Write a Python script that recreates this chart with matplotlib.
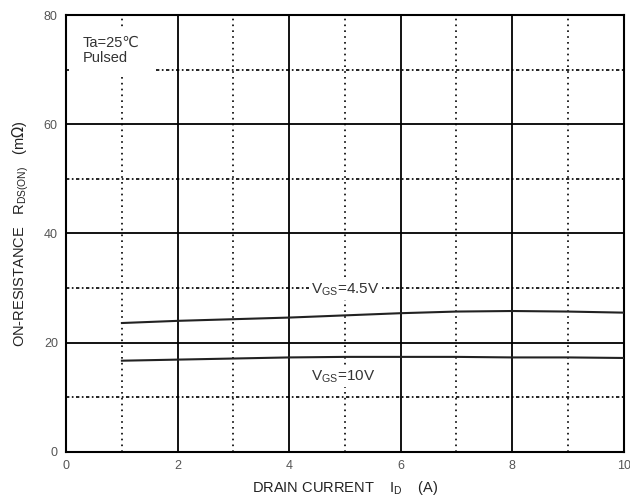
import matplotlib
matplotlib.use('Agg')
import matplotlib.pyplot as plt
import numpy as np

plt.rcParams['font.family'] = ['Liberation Sans', 'DejaVu Sans']

# drain current (A) and on-resistance (mOhm)
id_a = [1, 2, 3, 4, 5, 6, 7, 8, 9, 10]
r_vgs45 = [23.6, 24.0, 24.3, 24.6, 25.0, 25.4, 25.7, 25.8, 25.7, 25.5]
r_vgs10 = [16.7, 16.9, 17.1, 17.3, 17.4, 17.4, 17.4, 17.3, 17.3, 17.2]

xticks = [0, 2, 4, 6, 8, 10]
yticks = [0, 20, 40, 60, 80]
xminor = [1, 3, 5, 7, 9]
yminor = [10, 30, 50, 70]

fig = plt.figure(figsize=(6.3, 5.01), dpi=100)
ax = fig.add_axes([0.105, 0.098, 0.885, 0.872])

for x in xticks[1:-1]:
    ax.axvline(x, color='black', lw=1.3, zorder=1)
for y in yticks[1:-1]:
    ax.axhline(y, color='black', lw=1.3, zorder=1)
for x in xminor:
    ax.axvline(x, color='black', lw=1.2, ls=(0, (1, 2.5)), zorder=1)
for y in yminor:
    ax.axhline(y, color='black', lw=1.2, ls=(0, (2, 1.5, 1, 1.5)), zorder=1)

ax.plot(id_a, r_vgs45, color='#222222', lw=1.5, zorder=3)
ax.plot(id_a, r_vgs10, color='#222222', lw=1.5, zorder=3)

ax.set_xlim(0, 10)
ax.set_ylim(0, 80)
ax.set_xticks(xticks)
ax.set_yticks(yticks)
ax.tick_params(length=0, labelsize=9, labelcolor='#555555', pad=6)
for s in ax.spines.values():
    s.set_linewidth(1.5)

# white patch behind the condition note, breaking the grid there
ax.fill_between([0.05, 1.6], 69.3, 77.8, color='white', lw=0, zorder=2)
ax.text(0.3, 70.8, 'Ta=25\u2103\nPulsed', fontsize=10.5, color='#333333',
        va='bottom', ha='left', linespacing=1.15, zorder=4)

box = dict(facecolor='white', edgecolor='none', pad=1.5)
ax.text(4.4, 29.8, r'V$_{\mathregular{GS}}$=4.5V', fontsize=11,
        color='#333333', va='center', ha='left', bbox=box, zorder=4)
ax.text(4.4, 13.8, r'V$_{\mathregular{GS}}$=10V', fontsize=11,
        color='#333333', va='center', ha='left', bbox=box, zorder=4)

ax.set_xlabel(r'DRAIN CURRENT    I$_{\mathregular{D}}$    (A)', fontsize=10.5,
              color='#222222', labelpad=5)
ax.set_ylabel(r'ON-RESISTANCE   R$_{\mathregular{DS(ON)}}$   (m$\Omega$)',
              fontsize=10.5, color='#222222', labelpad=9)

fig.savefig('out.png', dpi=100)
